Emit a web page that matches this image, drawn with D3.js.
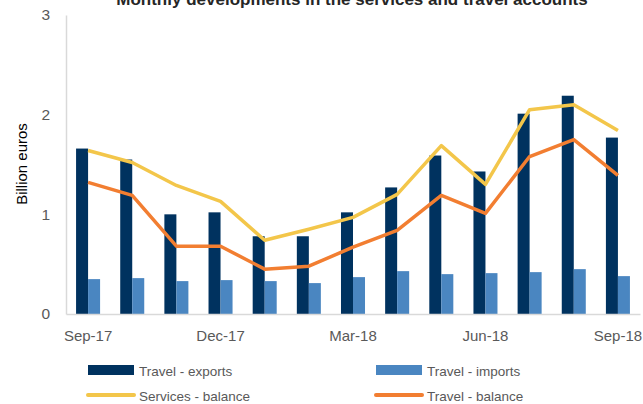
<!DOCTYPE html>
<html>
<head>
<meta charset="utf-8">
<script src="https://cdn.jsdelivr.net/npm/d3@7/dist/d3.min.js"></script>
<style>
  html, body { margin: 0; padding: 0; background: #fff; }
  svg { display: block; font-family: "Liberation Sans", Arial, sans-serif; }
</style>
</head>
<body>
<svg id="chart" width="643" height="404"></svg>
<script>
// Monthly figures, billion euros
const months = ["Sep-17","Oct-17","Nov-17","Dec-17","Jan-18","Feb-18","Mar-18",
                "Apr-18","May-18","Jun-18","Jul-18","Aug-18","Sep-18"];
const travelExports  = [1.66,1.55,1.00,1.02,0.78,0.78,1.02,1.27,1.59,1.43,2.01,2.19,1.77];
const travelImports  = [0.35,0.36,0.33,0.34,0.33,0.31,0.37,0.43,0.40,0.41,0.42,0.45,0.38];
const servicesBalance = [1.64,1.52,1.29,1.13,0.74,0.85,0.97,1.20,1.69,1.30,2.05,2.10,1.84];
const travelBalance   = [1.32,1.19,0.68,0.68,0.45,0.48,0.67,0.84,1.19,1.01,1.58,1.75,1.39];
const yTicks = [0, 1, 2, 3];
const xTickLabels = ["Sep-17","Dec-17","Mar-18","Jun-18","Sep-18"];

const colors = {
  exports: "#00325F",
  imports: "#4A86C1",
  services: "#F3C64A",
  travel: "#F27E31",
  text: "#595959",
  axis: "#D9D9D9"
};

const svg = d3.select("#chart");
const plot = {left: 66, right: 640, top: 15, bottom: 314};

const x = d3.scaleBand().domain(months).range([plot.left, plot.right])
  .paddingInner(0.456).paddingOuter(0.228);
const xSub = d3.scaleBand().domain(["exports","imports"]).range([0, x.bandwidth()]);
const y = d3.scaleLinear().domain([0, 3]).range([plot.bottom, plot.top]);

// Title (partly above the visible area)
svg.append("text")
  .attr("x", 352).attr("y", 5)
  .attr("text-anchor", "middle")
  .attr("font-size", 17).attr("font-weight", "bold")
  .attr("fill", "#262626")
  .text("Monthly developments in the services and travel accounts");

// Bars
const groups = svg.append("g").selectAll("g").data(months).join("g")
  .attr("transform", d => `translate(${x(d)},0)`);
groups.append("rect")
  .attr("x", xSub("exports")).attr("width", xSub.bandwidth())
  .attr("y", (d, i) => y(travelExports[i]))
  .attr("height", (d, i) => y(0) - y(travelExports[i]))
  .attr("fill", colors.exports);
groups.append("rect")
  .attr("x", xSub("imports")).attr("width", xSub.bandwidth())
  .attr("y", (d, i) => y(travelImports[i]))
  .attr("height", (d, i) => y(0) - y(travelImports[i]))
  .attr("fill", colors.imports);

// Axes
const yAxis = d3.axisLeft(y).tickValues(yTicks).tickSize(0).tickPadding(16)
  .tickFormat(d3.format("d"));
const gy = svg.append("g").attr("transform", `translate(${plot.left},0)`).call(yAxis);
gy.select(".domain").attr("stroke", colors.axis).attr("stroke-width", 1.5);
gy.selectAll("text").attr("font-size", 15.5).attr("fill", colors.text)
  .attr("font-family", "Liberation Sans, Arial, sans-serif");

const xAxis = d3.axisBottom(x).tickValues(xTickLabels).tickSize(0).tickPadding(16);
const gx = svg.append("g").attr("transform", `translate(0,${plot.bottom})`).call(xAxis);
gx.select(".domain").attr("stroke", colors.axis).attr("stroke-width", 1.5);
gx.selectAll("text").attr("font-size", 15).attr("fill", colors.text)
  .attr("font-family", "Liberation Sans, Arial, sans-serif");

// Lines through band centres
const cx = (d, i) => x(months[i]) + x.bandwidth() / 2;
const line = d3.line().x(cx).y(d => y(d));
svg.append("path").datum(servicesBalance)
  .attr("d", line).attr("fill", "none")
  .attr("stroke", colors.services).attr("stroke-width", 3.5)
  .attr("stroke-linejoin", "round");
svg.append("path").datum(travelBalance)
  .attr("d", line).attr("fill", "none")
  .attr("stroke", colors.travel).attr("stroke-width", 3.5)
  .attr("stroke-linejoin", "round");

// Y axis title
svg.append("text")
  .attr("transform", "translate(27,164) rotate(-90)")
  .attr("text-anchor", "middle")
  .attr("font-size", 15).attr("fill", "#000")
  .text("Billion euros");

// Legend
const legendItems = [
  {label: "Travel - exports", color: colors.exports, type: "rect", col: 0, row: 0},
  {label: "Travel - imports", color: colors.imports, type: "rect", col: 1, row: 0},
  {label: "Services - balance", color: colors.services, type: "line", col: 0, row: 1},
  {label: "Travel - balance", color: colors.travel, type: "line", col: 1, row: 1}
];
const colX = [88, 376], rowY = [370, 395];
const lg = svg.append("g").selectAll("g").data(legendItems).join("g")
  .attr("transform", d => `translate(${colX[d.col]},${rowY[d.row]})`);
lg.filter(d => d.type === "rect").append("rect")
  .attr("x", 0).attr("y", -5).attr("width", 46).attr("height", 10)
  .attr("fill", d => d.color);
lg.filter(d => d.type === "line").append("line")
  .attr("x1", 0).attr("x2", 46).attr("y1", 0).attr("y2", 0)
  .attr("stroke", d => d.color).attr("stroke-width", 4)
  .attr("stroke-linecap", "round");
lg.append("text")
  .attr("x", 51).attr("y", 5.5)
  .attr("font-size", 13.5).attr("fill", colors.text)
  .text(d => d.label);
</script>
</body>
</html>
